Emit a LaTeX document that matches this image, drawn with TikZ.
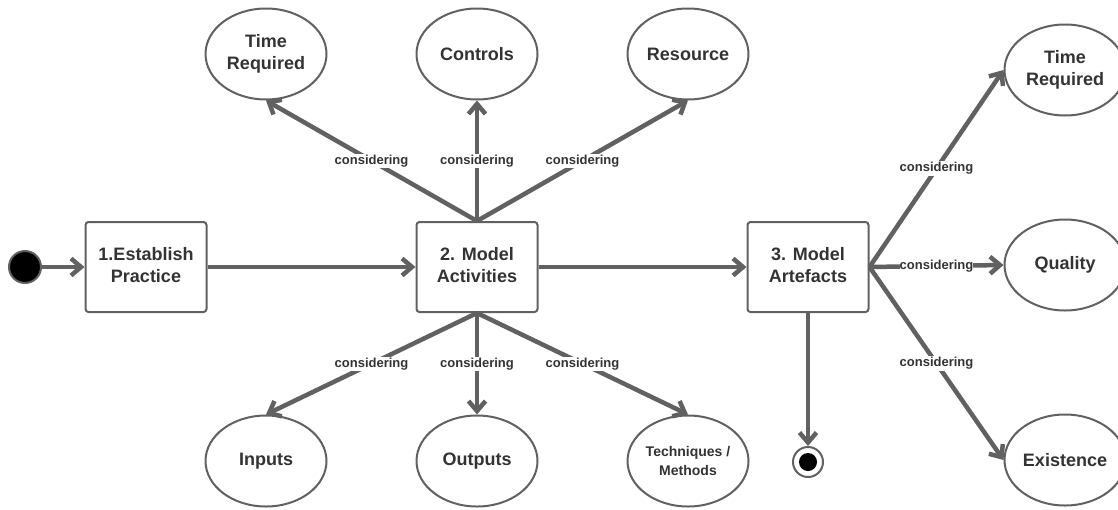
\documentclass[tikz,border=0pt]{standalone}
\usepackage{fontspec}
\setmainfont{Liberation Sans}
\usetikzlibrary{arrows.meta,shapes.geometric}
\definecolor{lc}{HTML}{616161}
\definecolor{tc}{HTML}{333333}
\newcommand{\boxtext}[2]{\raisebox{3pt}{\begin{tabular}{@{}c@{}}#1\\#2\end{tabular}}}
\begin{document}
\begin{tikzpicture}[x=1pt,y=-1pt,
  stepbox/.style={draw=lc,line width=2pt,rounded corners=3pt,fill=white,minimum width=121pt,minimum height=90pt,inner sep=0pt,text=tc,font=\fontsize{18}{21.5}\selectfont\bfseries},
  oval/.style={ellipse,draw=lc,line width=2pt,fill=white,minimum width=121pt,minimum height=91pt,inner sep=0pt,align=center,text=tc,font=\fontsize{18}{21.5}\selectfont\bfseries},
  conn/.style={draw=lc,line width=4.5pt,-{Straight Barb[length=10pt,width=17pt]}},
  lbl/.style={fill=white,inner sep=1pt,text=tc,font=\fontsize{13}{15}\selectfont\bfseries}
]
\useasboundingbox (0,0) rectangle (1118,509);
\fill[white] (0,0) rectangle (1118,509);

\node[circle,fill=black,draw=lc,line width=2pt,minimum size=32pt,inner sep=0pt] (start) at (25,267) {};
\node[stepbox] (b1) at (146,267) {\boxtext{1.Establish}{Practice}};
\node[stepbox] (b2) at (477,267) {\boxtext{2. Model}{Activities}};
\node[stepbox] (b3) at (808,267) {\boxtext{3. Model}{Artefacts}};

\node[oval] (tr1) at (266,54) {Time\\Required};
\node[oval] (ctl) at (477,54) {Controls};
\node[oval] (res) at (688,54) {Resource};
\node[oval] (inp) at (266,461) {Inputs};
\node[oval] (out) at (477,461) {Outputs};
\node[oval,font=\fontsize{14}{19}\selectfont\bfseries] (tech) at (688,461) {Techniques /\\Methods};
\node[oval] (tr2) at (1065,70) {Time\\Required};
\node[oval] (qual) at (1065,265) {Quality};
\node[oval] (ex) at (1065,460) {Existence};

\node[circle,draw=lc,line width=2pt,fill=white,minimum size=30pt,inner sep=0pt] (endc) at (808,462) {};
\fill[black] (endc.center) circle (9pt);

\draw[conn] (start) -- (b1);
\draw[conn] (b1) -- (b2);
\draw[conn] (b2) -- (b3);
\draw[conn] (b3.south) -- (endc);

\draw[conn] (b2.north) -- node[lbl]{considering} (tr1.south);
\draw[conn] (b2.north) -- node[lbl]{considering} (ctl.south);
\draw[conn] (b2.north) -- node[lbl]{considering} (res.south);
\draw[conn] (b2.south) -- node[lbl]{considering} (inp.north);
\draw[conn] (b2.south) -- node[lbl]{considering} (out.north);
\draw[conn] (b2.south) -- node[lbl]{considering} (tech.north);
\draw[conn] (b3.east) -- node[lbl]{considering} (tr2.west);
\draw[conn] (b3.east) -- node[lbl,inner sep=0pt]{considering} (qual.west);
\draw[conn] (b3.east) -- node[lbl]{considering} (ex.west);
\end{tikzpicture}
\end{document}
